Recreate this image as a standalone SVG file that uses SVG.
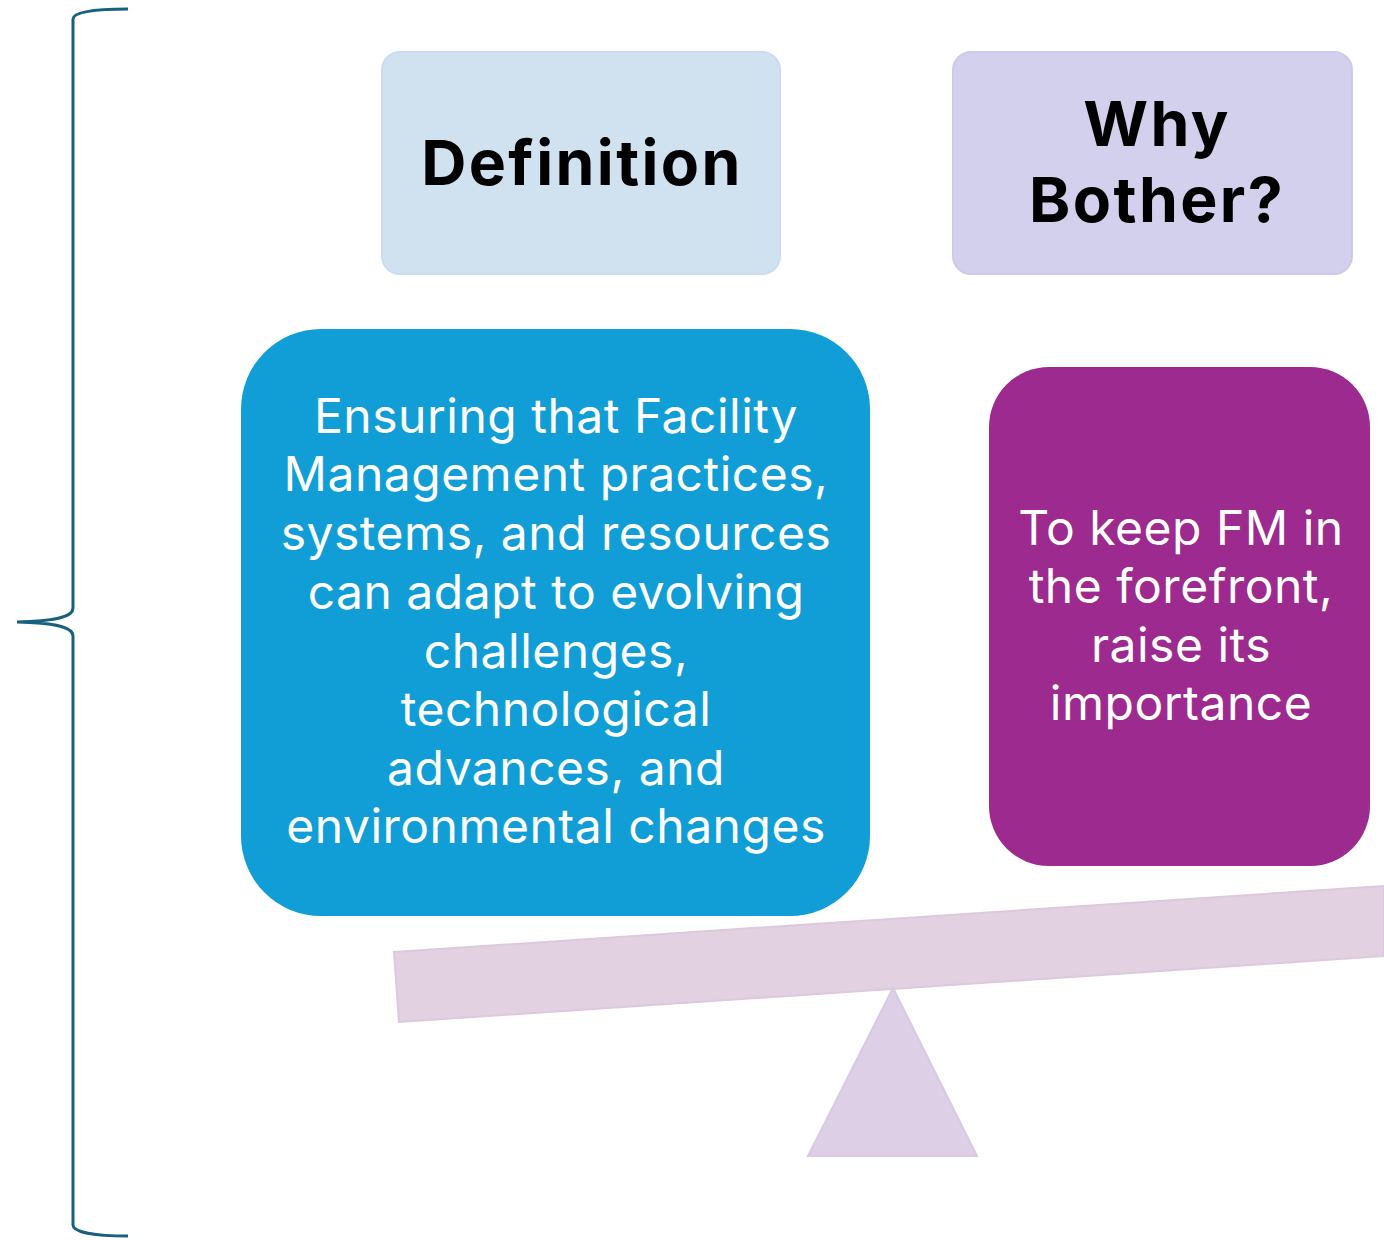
<svg xmlns="http://www.w3.org/2000/svg" width="1384" height="1240" viewBox="0 0 1384 1240">
<style>
.hdr{font-family:Inter,"Open Sans","Liberation Sans",Arial,sans-serif;font-weight:bold;font-size:62.5px;letter-spacing:2.4px;fill:#000;text-anchor:middle}
.body{font-family:Inter,"Open Sans","Liberation Sans",Arial,sans-serif;font-size:48px;letter-spacing:0.5px;fill:#fff;text-anchor:middle}
</style>
<rect width="1384" height="1240" fill="#fff"/>
<g id="brace">
<path d="M128,9 C95,9 73,12 73,19 L73,608 C73,616 60,621 17,622 C60,623 73,628 73,636 L73,1225 C73,1232 95,1236 128,1236" fill="none" stroke="#17607F" stroke-width="3"/>
</g>
<g id="beam">
<polygon points="394,952 1384,886 1384,956 399,1022" fill="#E1D1E1" stroke="#DCC9DC" stroke-width="2"/>
</g>
<g id="fulcrum">
<polygon points="893,988 977,1156 808,1156" fill="#DCCFE6" stroke="#D8CAE4" stroke-width="2"/>
</g>
<g id="definition">
<rect x="382" y="52" width="398" height="222" rx="18" fill="#D0E2F0" stroke="#C9DDEE" stroke-width="2"/>
<text class="hdr" x="582" y="185">Definition</text>
</g>
<g id="why">
<rect x="953" y="52" width="399" height="222" rx="18" fill="#D2D0EC" stroke="#CCCAE8" stroke-width="2"/>
<text class="hdr" x="1157" y="146">Why</text>
<text class="hdr" x="1157" y="222">Bother?</text>
</g>
<g id="definition-text">
<rect x="241" y="329" width="629" height="587" rx="80" fill="#119ED6"/>
<text class="body" x="556" y="433">Ensuring that Facility</text>
<text class="body" x="556" y="491">Management practices,</text>
<text class="body" x="556" y="550">systems, and resources</text>
<text class="body" x="556" y="609">can adapt to evolving</text>
<text class="body" x="556" y="668">challenges,</text>
<text class="body" x="556" y="726">technological</text>
<text class="body" x="556" y="785">advances, and</text>
<text class="body" x="556" y="843">environmental changes</text>
</g>
<g id="why-text">
<rect x="989" y="367" width="381" height="499" rx="60" fill="#9D2A8F"/>
<text class="body" x="1181" y="545">To keep FM in</text>
<text class="body" x="1181" y="603">the forefront,</text>
<text class="body" x="1181" y="662">raise its</text>
<text class="body" x="1181" y="720">importance</text>
</g>
<g id="connectors"/>
</svg>
